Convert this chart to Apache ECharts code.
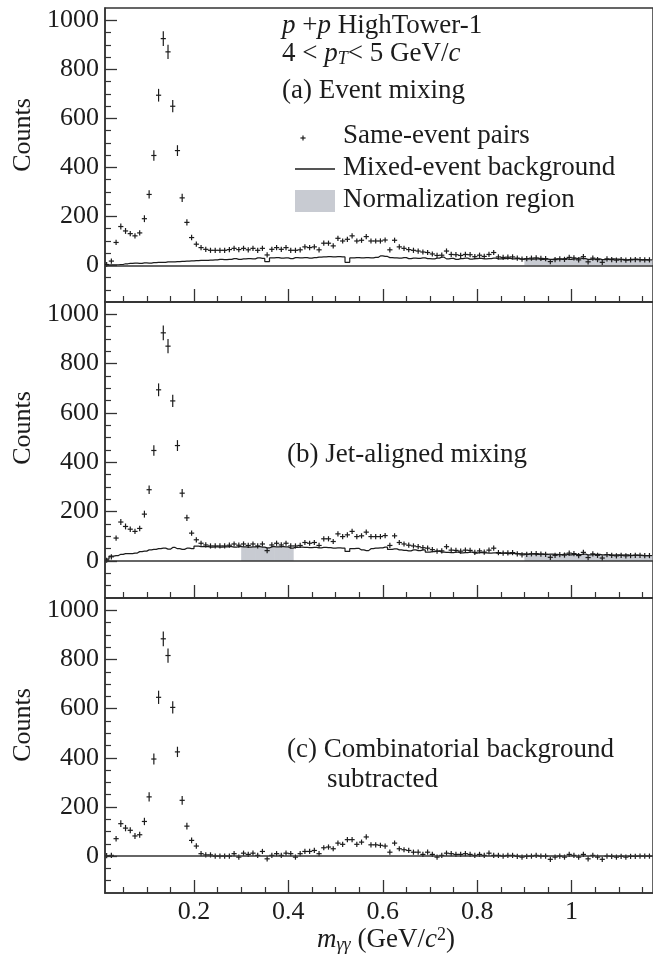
<!DOCTYPE html>
<html><head><meta charset="utf-8">
<script src="https://cdn.jsdelivr.net/npm/echarts@6/dist/echarts.min.js"></script>
<style>html,body{margin:0;padding:0;background:#fff}#c{width:653px;height:958px}</style>
</head><body><div id="c"></div>
<script>
// ---- data (bins of 0.01 GeV/c^2, first bin centre 0.015) ----
const binStart = 0.015;
const binWidth = 0.01;

const sameEvent = [
  3,17,93,158,140,129,120,132,190,289,
  448,694,925,871,649,468,275,175,113,86,
  72,65,61,61,61,61,64,69,64,69,
  63,69,61,69,42,65,72,65,72,61,
  61,63,75,72,75,63,90,90,79,110,
  99,106,120,99,102,117,99,99,99,103,
  63,102,75,69,64,61,58,54,52,46,
  40,41,58,44,43,40,44,43,35,41,
  36,44,52,34,32,33,34,29,25,27,
  29,30,28,27,15,23,26,24,32,30,
  22,35,14,29,23,12,26,23,21,23,
  21,22,23,23,22,22];

const mixedEventBg = [
  1,2,2,3,6,8,9,8,10,9,
  11,12,12,14,14,15,16,17,18,19,
  20,20,21,22,24,23,24,27,24,26,
  27,26,30,28,15,30,31,29,30,27,
  31,30,31,29,31,33,34,35,34,35,
  34,12,30,31,30,31,30,32,38,36,
  31,30,29,31,27,29,28,30,27,26,
  29,33,26,28,24,27,29,25,27,28,
  26,27,29,26,27,28,26,27,25,26,
  25,26,24,25,24,26,25,27,24,26,
  29,27,24,25,26,23,24,26,25,24,
  22,24,25,22,23,21];

const jetAlignedBg = [
  8,20,22,27,30,30,32,38,40,45,
  47,50,52,48,55,50,47,52,50,60,
  58,58,56,57,56,57,58,56,58,57,
  56,57,58,56,53,58,57,58,57,52,
  55,56,55,54,55,53,55,54,52,53,
  52,39,50,51,45,42,50,52,53,56,
  47,49,45,43,41,45,42,45,36,38,
  40,36,35,34,36,33,34,36,32,34,
  33,32,33,31,32,30,31,30,29,28,
  29,27,28,27,28,27,26,28,25,27,
  26,28,25,26,27,25,26,24,25,24,
  25,23,24,23,22,22];

const subtracted = [
  2,3,71,132,114,105,82,87,141,241,
  395,646,884,816,605,424,227,122,64,41,
  10,5,5,0,0,0,0,10,-4,12,
  7,12,3,19,-11,3,10,3,12,10,
  -4,10,19,19,23,10,34,37,30,53,
  48,67,67,48,57,78,46,46,44,41,
  16,53,30,26,23,16,16,7,16,7,
  -4,3,12,10,7,7,10,7,3,7,
  3,12,3,3,0,3,3,-1,-4,-1,
  0,3,0,0,-13,-4,0,-4,7,3,
  -4,7,-11,3,-4,-13,0,-1,-4,-1,
  -4,-1,-1,0,0,0];

// vertical error bars (counts), first 25 bins; beyond that they hide inside the marker
const sameErr = [2,4,10,12,12,11,11,11,14,17,21,26,30,29,25,22,17,13,11,9,8,8,8,8,8];
const subErr  = [3,5,11,14,13,12,12,12,15,19,22,27,30,29,25,21,18,14,12,11,10,10,10,10,10];

const normRegionA = [[0.9, 1.17]];
const normRegionB = [[0.3, 0.41], [0.9, 1.17]];

const xMajorTicks = [0.2, 0.4, 0.6, 0.8, 1.0];
const xMinorTicks = [0.05,0.1,0.15,0.25,0.3,0.35,0.45,0.5,0.55,0.65,0.7,0.75,0.85,0.9,0.95,1.05,1.1,1.15];
const yMajorTicks = [0, 200, 400, 600, 800, 1000];
const yMinorTicks = [-100,-50,50,100,150,250,300,350,450,500,550,650,700,750,850,900,950];

// ---- build ----
const centres = sameEvent.map((_, i) => +(binStart + i * binWidth).toFixed(3));
const pts = arr => arr.map((v, i) => [centres[i], v, i]);
const normPts = (arr, regions) => arr.map((v, i) => [centres[i], v, i])
  .filter(p => regions.some(r => p[0] > r[0] && p[0] < r[1]));

const INK = '#1c1c1c';
const AX = '#333';
const serif = 'Liberation Serif';
const FS = 26;      // axis labels
const TFS = 27;     // annotation text
const X_MIN = 0.0115, X_MAX = 1.1725, Y_MIN = -150, Y_MAX = 1050;

function crossItem(errs) {
  return function (params, api) {
    const x = api.value(0), y = api.value(1), i = api.value(2);
    const c = api.coord([x, y]);
    const e = errs[i] || 0;
    const t = api.coord([x, y + e])[1], b = api.coord([x, y - e])[1];
    const hv = Math.max(2.6, (b - t) / 2);
    const hh = 2.6;
    const st = { stroke: INK, lineWidth: 1.2 };
    return { type: 'group', children: [
      { type: 'line', shape: { x1: c[0] - hh, y1: c[1], x2: c[0] + hh, y2: c[1] }, style: st },
      { type: 'line', shape: { x1: c[0], y1: c[1] - hv, x2: c[0], y2: c[1] + hv }, style: st }
    ]};
  };
}
function normItem(params, api) {
  const x = api.value(0), y = api.value(1);
  const p1 = api.coord([x - binWidth / 2, y]);
  const p0 = api.coord([x + binWidth / 2, 0]);
  return { type: 'rect', shape: { x: p1[0], y: p1[1], width: p0[0] - p1[0] + 0.6, height: p0[1] - p1[1] },
           style: { fill: '#c8cbd2' } };
}

const grids = [
  { left: 105, width: 550, top: 8, height: 294 },
  { left: 105, width: 550, top: 302, height: 296 },
  { left: 105, width: 550, top: 598, height: 295 }
].map(g => Object.assign(g, { show: true, borderColor: AX, borderWidth: 1.5, backgroundColor: 'transparent' }));

const xAxis = [], yAxis = [];
for (let g = 0; g < 3; g++) {
  xAxis.push({
    gridIndex: g, type: 'value', min: X_MIN, max: X_MAX, position: 'bottom',
    axisLine: { show: true, onZero: false, lineStyle: { color: AX, width: 1.5 } },
    axisTick: { show: true, inside: true, length: 13, customValues: xMajorTicks, lineStyle: { color: AX, width: 1.3 } },
    axisLabel: { show: g === 2, customValues: xMajorTicks, margin: 6, fontSize: FS, fontFamily: serif, color: INK,
                 formatter: v => String(Math.round(v * 10) / 10) },
    splitLine: { show: false }
  });
  xAxis.push({
    gridIndex: g, type: 'value', min: X_MIN, max: X_MAX, position: 'bottom',
    axisLine: { show: false, onZero: false },
    axisTick: { show: true, inside: true, length: 6, customValues: xMinorTicks, lineStyle: { color: AX, width: 1.2 } },
    axisLabel: { show: false }, splitLine: { show: false }
  });
  yAxis.push({
    gridIndex: g, type: 'value', min: Y_MIN, max: Y_MAX, position: 'left',
    axisLine: { show: true, onZero: false, lineStyle: { color: AX, width: 1.5 } },
    axisTick: { show: true, inside: true, length: 12, customValues: yMajorTicks, lineStyle: { color: AX, width: 1.3 } },
    axisLabel: { show: true, customValues: yMajorTicks, margin: 6, fontSize: FS, fontFamily: serif, color: INK,
                 formatter: v => String(Math.round(v)) },
    splitLine: { show: false }
  });
  yAxis.push({
    gridIndex: g, type: 'value', min: Y_MIN, max: Y_MAX, position: 'left',
    axisLine: { show: false, onZero: false },
    axisTick: { show: true, inside: true, length: 6, customValues: yMinorTicks, lineStyle: { color: AX, width: 1.2 } },
    axisLabel: { show: false }, splitLine: { show: false }
  });
}

const zeroLine = {
  silent: true, symbol: ['none', 'none'], label: { show: false },
  lineStyle: { type: 'solid', color: AX, width: 1.5 }, data: [{ yAxis: 0 }], animation: false
};
const stepLine = (g, arr) => ({
  type: 'line', xAxisIndex: 2 * g, yAxisIndex: 2 * g, step: 'middle', showSymbol: false, z: 3,
  data: pts(arr).map(p => [p[0], p[1]]), lineStyle: { color: INK, width: 1.2 }, markLine: zeroLine
});
const crosses = (g, arr, errs, withZero) => ({
  type: 'custom', xAxisIndex: 2 * g, yAxisIndex: 2 * g, z: 4, clip: true,
  dimensions: ['x', 'y', 'i'], encode: { x: 0, y: 1 },
  data: pts(arr), renderItem: crossItem(errs), markLine: withZero ? zeroLine : undefined
});
const norm = (g, arr, regions) => ({
  type: 'custom', xAxisIndex: 2 * g, yAxisIndex: 2 * g, z: 2, clip: true,
  dimensions: ['x', 'y', 'i'], encode: { x: 0, y: 1 },
  data: normPts(arr, regions), renderItem: normItem
});

const series = [
  norm(0, mixedEventBg, normRegionA), stepLine(0, mixedEventBg), crosses(0, sameEvent, sameErr, false),
  norm(1, jetAlignedBg, normRegionB), stepLine(1, jetAlignedBg), crosses(1, sameEvent, sameErr, false),
  crosses(2, subtracted, subErr, true)
];

const txt = (x, y, text, extra) => ({
  type: 'text', x, y, z: 10,
  style: Object.assign({ text, fill: INK, fontSize: TFS, fontFamily: serif, align: 'left', verticalAlign: 'middle' }, extra || {})
});
const LH = 28;
const richStyles = {
  n: { fontSize: TFS, fontFamily: serif, lineHeight: LH, fill: INK },
  i: { fontSize: TFS, fontFamily: serif, fontStyle: 'italic', lineHeight: LH, fill: INK },
  sub: { fontSize: 18, fontFamily: serif, fontStyle: 'italic', lineHeight: 18, verticalAlign: 'bottom', fill: INK },
  sup: { fontSize: 18, fontFamily: serif, lineHeight: 18, verticalAlign: 'top', fill: INK }
};
const richTxt = (x, y, text) => txt(x, y, text, { rich: richStyles, lineHeight: LH });

const legendCross = (cx, cy) => ({ type: 'group', children: [
  { type: 'line', shape: { x1: cx - 2.6, y1: cy, x2: cx + 2.6, y2: cy }, style: { stroke: INK, lineWidth: 1.2 } },
  { type: 'line', shape: { x1: cx, y1: cy - 2.6, x2: cx, y2: cy + 2.6 }, style: { stroke: INK, lineWidth: 1.2 } }
]});

const graphic = [
  richTxt(282, 26, '{i|p} +{i|p}{n| HighTower-1}'),
  richTxt(282, 54, '{n|4 <}{i| p}{sub|T}{n|< 5 GeV/}{i|c}'),
  txt(282, 91, '(a) Event mixing'),
  legendCross(303, 138),
  txt(343, 136, 'Same-event pairs'),
  { type: 'line', shape: { x1: 295, y1: 169, x2: 335, y2: 169 }, style: { stroke: INK, lineWidth: 1.3 } },
  txt(343, 168, 'Mixed-event background'),
  { type: 'rect', shape: { x: 295, y: 190, width: 40, height: 22 }, style: { fill: '#c8cbd2' } },
  txt(343, 200, 'Normalization region'),
  txt(287, 455, '(b) Jet-aligned mixing'),
  txt(287, 750, '(c) Combinatorial background'),
  txt(327, 780, 'subtracted'),
  richTxt(317, 940, '{i|m}{sub|γγ}{n| (GeV/}{i|c}{sup|2}{n|)}'),
  txt(23, 135, 'Counts', { align: 'center', fontSize: FS }),
  txt(23, 428, 'Counts', { align: 'center', fontSize: FS }),
  txt(23, 725, 'Counts', { align: 'center', fontSize: FS })
];
// rotate the three "Counts" titles
graphic.slice(-3).forEach(g => { g.rotation = Math.PI / 2; });

const chart = echarts.init(document.getElementById('c'), null, { renderer: 'canvas' });
chart.setOption({
  animation: false,
  backgroundColor: '#fff',
  grid: grids, xAxis, yAxis, series, graphic
});
</script></body></html>
